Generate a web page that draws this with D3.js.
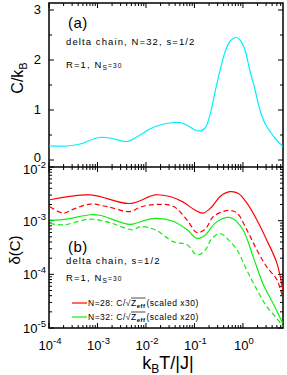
<!DOCTYPE html>
<html>
<head>
  <meta charset="UTF-8" />
  <title>delta chain</title>
  <style>
    body { margin: 0; background: #fff; }
    svg { font-family: "Liberation Sans", Arial, Helvetica, sans-serif; }
  </style>
  <script src="https://d3js.org/d3.v7.min.js"></script>
</head>
<body>
  <script>
    // temperature grid points (k_B T / |J|)
    let tempA = [1e-4, 2.34e-4, 4.37e-4, 1.07e-3, 1.82e-3, 4.07e-3, 7.59e-3, 1.20e-2, 1.95e-2, 3.09e-2,
      5.01e-2, 6.31e-2, 0.102, 0.129, 0.166, 0.209, 0.263, 0.339, 0.427, 0.537, 0.724, 0.871, 1.10,
      1.38, 1.78, 2.24, 2.82, 3.63, 4.57, 6.61];
    let heatA = [0.28, 0.28, 0.32, 0.45, 0.44, 0.37, 0.50, 0.62, 0.70, 0.74,
      0.75, 0.72, 0.60, 0.58, 0.64, 0.90, 1.34, 1.80, 2.16, 2.37, 2.45, 2.40, 2.20,
      1.80, 1.40, 1.00, 0.74, 0.57, 0.44, 0.27];

    let tempRed = [1.05e-4, 7.08e-4, 4.68e-3, 1.55e-2, 3.09e-2, 5.75e-2, 0.102, 0.151, 0.229, 0.339,
      0.537, 0.794, 1.20, 1.95, 3.09, 5.01, 6.61];
    let redSolid = [2.45e-3, 3.02e-3, 2.09e-3, 3.02e-3, 2.82e-3, 2.24e-3, 1.58e-3, 1.38e-3, 1.82e-3, 2.82e-3,
      3.47e-3, 3.24e-3, 2.14e-3, 1.02e-3, 4.37e-4, 1.62e-4, 5.25e-5];

    let tempRedD = [1.05e-4, 1.95e-4, 3.09e-4, 7.08e-4, 1.58e-3, 4.68e-3, 7.59e-3, 1.55e-2, 3.63e-2, 7.08e-2,
      0.112, 0.166, 0.240, 0.389, 0.537, 0.759, 1.20, 1.95, 3.09, 5.01, 6.61];
    let redDashed = [1.82e-3, 1.38e-3, 1.62e-3, 2.04e-3, 1.82e-3, 1.48e-3, 1.78e-3, 2.00e-3, 1.86e-3, 1.02e-3,
      6.03e-4, 6.92e-4, 1.17e-3, 1.48e-3, 1.55e-3, 1.38e-3, 6.76e-4, 2.82e-4, 1.38e-4, 7.94e-5, 3.63e-5];

    let tempGreen = [1.05e-4, 2.34e-4, 7.08e-4, 1.12e-3, 4.68e-3, 7.59e-3, 1.55e-2, 3.63e-2, 7.08e-2, 0.112,
      0.166, 0.263, 0.468, 0.617, 1.0, 1.62, 2.57, 4.17, 6.61];
    let greenSolid = [1.02e-3, 1.07e-3, 1.29e-3, 1.26e-3, 8.51e-4, 9.55e-4, 1.10e-3, 9.77e-4, 6.76e-4, 4.68e-4,
      5.37e-4, 8.91e-4, 1.15e-3, 1.10e-3, 6.76e-4, 2.14e-4, 6.76e-5, 2.88e-5, 1.23e-5];

    let tempGreenD = [1.05e-4, 1.95e-4, 7.08e-4, 1.82e-3, 5.37e-3, 7.59e-3, 1.55e-2, 3.63e-2, 7.08e-2, 0.112,
      0.166, 0.229, 0.339, 0.468, 0.759, 1.20, 1.95, 3.09, 5.01, 6.61];
    let greenDashed = [8.91e-4, 8.32e-4, 1.07e-3, 9.12e-4, 6.76e-4, 7.76e-4, 6.76e-4, 4.07e-4, 3.55e-4, 2.29e-4,
      2.82e-4, 4.68e-4, 5.75e-4, 4.68e-4, 2.82e-4, 1.20e-4, 5.13e-5, 2.51e-5, 1.51e-5, 1.07e-5];

    let xTicks = [1e-4, 1e-3, 1e-2, 1e-1, 1];
    let xTickExp = ["-4", "-3", "-2", "-1", "0"];
    let yTicksA = [0, 1, 2, 3];
    let yTicksB = [1e-5, 1e-4, 1e-3, 1e-2];
    let yTickExpB = ["-5", "-4", "-3", "-2"];

    let W = 287, H = 375,
      left = 49, right = 283, topA = 3, mid = 167, bot = 328;

    let svg = d3.select("body").append("svg")
      .attr("width", W).attr("height", H);

    let x = d3.scaleLog().domain([1e-4, 6.7]).range([left, right]);
    let yA = d3.scaleLinear().domain([-0.14, 3.14]).range([mid, topA]);
    let yB = d3.scaleLog().domain([1e-5, 1e-2]).range([bot, mid]);

    let defs = svg.append("defs");
    defs.append("clipPath").attr("id", "clipA").append("rect")
      .attr("x", left).attr("y", topA).attr("width", right - left).attr("height", mid - topA);
    defs.append("clipPath").attr("id", "clipB").append("rect")
      .attr("x", left).attr("y", mid).attr("width", right - left).attr("height", bot - mid);

    /* minor ticks for log axes */
    let xMinor = [];
    for (let e = -4; e <= 0; e++) for (let m = 2; m <= 9; m++) {
      let v = m * Math.pow(10, e);
      if (v < 6.7) xMinor.push(v);
    }
    let yMinorB = [];
    for (let e = -5; e <= -3; e++) for (let m = 2; m <= 9; m++) yMinorB.push(m * Math.pow(10, e));

    let tickG = svg.append("g").attr("stroke", "#000").attr("stroke-width", 1);

    function xTickMarks(yPos, dir) {
      tickG.selectAll(null).data(xTicks).enter().append("line")
        .attr("x1", d => x(d)).attr("x2", d => x(d))
        .attr("y1", yPos).attr("y2", yPos + dir * 5);
      tickG.selectAll(null).data(xMinor).enter().append("line")
        .attr("x1", d => x(d)).attr("x2", d => x(d))
        .attr("y1", yPos).attr("y2", yPos + dir * 3);
    }
    xTickMarks(topA, 1);
    xTickMarks(mid, -1);
    xTickMarks(mid, 1);
    xTickMarks(bot, -1);

    /* y ticks on both sides */
    let yMinorA = [0.5, 1.5, 2.5];
    [[left, 1], [right, -1]].forEach(([xp, dir]) => {
      tickG.selectAll(null).data(yTicksA).enter().append("line")
        .attr("x1", xp).attr("x2", xp + dir * 5)
        .attr("y1", d => yA(d)).attr("y2", d => yA(d));
      tickG.selectAll(null).data(yMinorA).enter().append("line")
        .attr("x1", xp).attr("x2", xp + dir * 3)
        .attr("y1", d => yA(d)).attr("y2", d => yA(d));
      tickG.selectAll(null).data(yTicksB).enter().append("line")
        .attr("x1", xp).attr("x2", xp + dir * 5)
        .attr("y1", d => yB(d)).attr("y2", d => yB(d));
      tickG.selectAll(null).data(yMinorB).enter().append("line")
        .attr("x1", xp).attr("x2", xp + dir * 3)
        .attr("y1", d => yB(d)).attr("y2", d => yB(d));
    });

    /* frames */
    svg.append("rect").attr("x", left).attr("y", topA)
      .attr("width", right - left).attr("height", bot - topA)
      .attr("fill", "none").attr("stroke", "#000").attr("stroke-width", 1.5);
    svg.append("line").attr("x1", left).attr("x2", right).attr("y1", mid).attr("y2", mid)
      .attr("stroke", "#000").attr("stroke-width", 1.5);

    /* curves */
    let line = d3.line().curve(d3.curveCatmullRom.alpha(0.5));
    function curve(ts, vs, ys, color, dash, clip) {
      svg.append("path")
        .attr("d", line(ts.map((t, i) => [x(t), ys(vs[i])])))
        .attr("fill", "none").attr("stroke", color).attr("stroke-width", 1.2)
        .attr("stroke-dasharray", dash)
        .attr("clip-path", `url(#${clip})`);
    }
    curve(tempA, heatA, yA, "#00f0ff", null, "clipA");
    curve(tempRed, redSolid, yB, "#ff0000", null, "clipB");
    curve(tempRedD, redDashed, yB, "#ff0000", "5,3", "clipB");
    curve(tempGreen, greenSolid, yB, "#11ee11", null, "clipB");
    curve(tempGreenD, greenDashed, yB, "#11ee11", "5,3", "clipB");

    /* tick labels */
    function powLabel(g, xp, yp, exp, anchor) {
      let t = g.append("text").attr("x", xp).attr("y", yp)
        .attr("text-anchor", anchor).attr("font-size", 13);
      t.append("tspan").text("10");
      t.append("tspan").attr("dy", -6).attr("font-size", 9.5).text(exp);
      return t;
    }
    let lab = svg.append("g").attr("fill", "#000");
    xTicks.forEach((d, i) => powLabel(lab, x(d) + 1, 350, xTickExp[i], "middle"));
    yTicksB.forEach((d, i) => powLabel(lab, 46, yB(d) + (i === 3 ? 7 : 5), yTickExpB[i], "end"));
    lab.selectAll(null).data(yTicksA).enter().append("text")
      .attr("x", 41).attr("y", d => yA(d) + (d === 0 ? 2 : 4))
      .attr("text-anchor", "end").attr("font-size", 13).text(d => d);

    /* axis titles */
    let xt = lab.append("text").attr("x", 168).attr("y", 369)
      .attr("text-anchor", "middle").attr("font-size", 18);
    xt.append("tspan").text("k");
    xt.append("tspan").attr("dy", 4).attr("font-size", 12).text("B");
    xt.append("tspan").attr("dy", -4).text("T/|J|");

    let ya = lab.append("text").attr("transform", "translate(23,78) rotate(-90)")
      .attr("text-anchor", "middle").attr("font-size", 16);
    ya.append("tspan").text("C/k");
    ya.append("tspan").attr("dy", 4).attr("font-size", 11).text("B");

    lab.append("text").attr("transform", "translate(20,250) rotate(-90)")
      .attr("text-anchor", "middle").attr("font-size", 15).text("δ(C)");

    /* annotations */
    function note(xp, yp, parts, size, spacing) {
      let t = lab.append("text").attr("x", xp).attr("y", yp).attr("font-size", size)
        .attr("letter-spacing", spacing);
      parts.forEach(p => {
        let s = t.append("tspan").text(p[0]);
        if (p[1]) s.attr("dy", p[1]).attr("font-size", size * 0.7);
      });
      return t;
    }
    note(68, 28, [["(a)"]], 15, 0.5);
    note(66, 45, [["delta chain, N=32, s=1/2"]], 9.5, 1.1);
    note(66, 68, [["R=1, N"], ["S", 2], ["=30", -2]], 9.5, 1.1);
    note(68, 252, [["(b)"]], 15, 0.5);
    note(66, 264, [["delta chain, s=1/2"]], 9.5, 1.1);
    note(66, 281, [["R=1, N"], ["S", 2], ["=30", -2]], 9.5, 1.1);

    /* legend */
    let legendRows = [["N=28: ", "(scaled  x30)", "#ff0000", 303], ["N=32: ", "(scaled  x20)", "#11ee11", 317]];
    legendRows.forEach(([lead, tail, color, yp]) => {
      svg.append("line").attr("x1", 72).attr("x2", 87).attr("y1", yp).attr("y2", yp)
        .attr("stroke", color).attr("stroke-width", 1.2);
      let t = lab.append("text").attr("x", 88).attr("y", yp + 3).attr("font-size", 8.5)
        .attr("letter-spacing", 0.5);
      t.append("tspan").text(lead + "C/");
      t.append("tspan").text("√");
      t.append("tspan").text("Z");
      t.append("tspan").attr("dy", 2).attr("font-size", 6).attr("font-weight", "bold").text("eff");
      t.append("tspan").attr("dy", -2).attr("dx", 1).text(tail);
      let node = t.node();
      let i0 = (lead + "C/").length + 1;
      let start = node.getStartPositionOfChar(i0);
      let end = node.getEndPositionOfChar(i0 + 3);
      svg.append("line").attr("x1", start.x).attr("x2", end.x)
        .attr("y1", yp - 5).attr("y2", yp - 5)
        .attr("stroke", "#000").attr("stroke-width", 0.7);
    });
  </script>
</body>
</html>
